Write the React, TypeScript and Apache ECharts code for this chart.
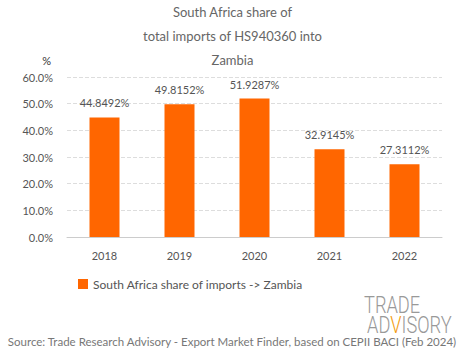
import React, { useEffect, useRef } from "react";
import * as echarts from "echarts";

const titleLines = ["South Africa share of", "total imports of HS940360 into", "Zambia"];
const years = ["2018", "2019", "2020", "2021", "2022"];
const shares = [44.8492, 49.8152, 51.9287, 32.9145, 27.3112];
const seriesName = "South Africa share of imports -> Zambia";
const sourceText = "Source: Trade Research Advisory - Export Market Finder, based on CEPII BACI (Feb 2024)";

export default function App() {
  const ref = useRef<HTMLDivElement>(null);
  useEffect(() => {
    if (!ref.current) return;
    const chart = echarts.init(ref.current, null, { renderer: "svg" });
    const font = "Lato";
    chart.setOption({
      animation: false,
      textStyle: { fontFamily: font },
      title: {
        text: titleLines.join("\n"),
        left: "center",
        top: -5,
        textStyle: { fontSize: 13, fontWeight: "normal", color: "#666", lineHeight: 24, fontFamily: font },
      },
      grid: { left: 67, right: 23, top: 77, bottom: 122 },
      legend: {
        data: [seriesName],
        left: 73,
        top: 273,
        itemWidth: 10,
        itemHeight: 10,
        icon: "rect",
        itemGap: 5,
        textStyle: { fontSize: 12, color: "#555", fontFamily: font },
      },
      xAxis: {
        type: "category",
        data: years,
        axisTick: { show: false },
        axisLine: { lineStyle: { color: "#ccc" } },
        axisLabel: { color: "#555", fontSize: 11, margin: 13, fontFamily: font },
      },
      yAxis: {
        type: "value",
        name: "%",
        nameGap: 11,
        nameTextStyle: { color: "#333", fontSize: 11, align: "right", padding: [0, 16, 0, 0] },
        min: 0,
        max: 60,
        interval: 10,
        axisLabel: { formatter: (v: number) => v.toFixed(1) + "%", color: "#555", fontSize: 11, margin: 14, fontFamily: font },
        splitLine: { lineStyle: { type: "dashed", color: "#ddd" } },
      },
      series: [
        {
          name: seriesName,
          type: "bar",
          data: shares,
          barWidth: "40%",
          itemStyle: { color: "#ff6600" },
          label: {
            show: true,
            position: "top",
            distance: 9,
            formatter: (p: any) => p.value.toFixed(4) + "%",
            color: "#555",
            fontSize: 11,
            fontFamily: font,
          },
        },
      ],
      graphic: [
        {
          type: "text",
          x: 364,
          y: 293,
          scaleX: 0.76,
          style: {
            text: "TRADE",
            font: "300 24px Roboto",
            fill: "#999",
          },
        },
        {
          type: "text",
          x: 367,
          y: 313,
          scaleX: 0.76,
          style: {
            text: "AD{v|V}ISORY",
            font: "300 24px Roboto",
            fill: "#999",
            rich: { v: { font: "300 24px Roboto", fill: "#f39c12", color: "#f39c12" } },
          },
        },
        {
          type: "text",
          left: "center",
          top: 335,
          style: { text: sourceText, font: "11.5px Lato", fill: "#777" },
        },
      ],
    });
    return () => chart.dispose();
  }, []);
  return <div ref={ref} style={{ position: "absolute", left: 0, top: 0, width: 465, height: 359 }} />;
}
